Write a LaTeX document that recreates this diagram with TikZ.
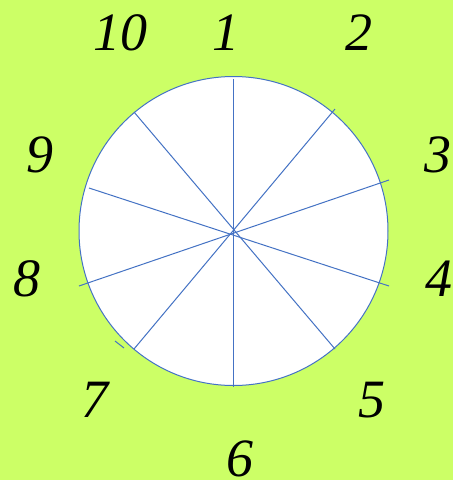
\documentclass[tikz,border=0pt]{standalone}
\usepackage{fontspec}
\setmainfont{Liberation Serif}
\definecolor{bggreen}{HTML}{CCFF66}
\definecolor{lineblue}{HTML}{4472C4}
\begin{document}
\begin{tikzpicture}[x=1pt,y=-1pt,
  spoke/.style={draw=lineblue,line width=1pt},
  num/.style={anchor=base,inner sep=0pt,text depth=0pt,font=\fontsize{54}{60}\selectfont\itshape}]
\fill[bggreen] (0,0) rectangle (453,480);
\useasboundingbox (0,0) rectangle (453,480);
\coordinate (c) at (233.5,231);
\draw[spoke,fill=white] (c) circle[radius=154.5];
\draw[spoke] (233.5,79) -- (233.5,387);
\draw[spoke] (134,112) -- (335,349);
\draw[spoke] (335,109) -- (134,349);
\draw[spoke] (89,188) -- (389,286);
\draw[spoke] (389,180) -- (79,286);
\draw[spoke] (115,341) -- (124,348);
\node[num] (n10) at (120,50) {10};
\node[num] (n1) at (226,50) {1};
\node[num] (n2) at (359,50) {2};
\node[num] (n3) at (438,172) {3};
\node[num] (n4) at (439,296) {4};
\node[num] (n5) at (372,417) {5};
\node[num] (n6) at (240,476.5) {6};
\node[num] (n7) at (95,417) {7};
\node[num] (n8) at (27,296) {8};
\node[num] (n9) at (40,172) {9};
\end{tikzpicture}
\end{document}
